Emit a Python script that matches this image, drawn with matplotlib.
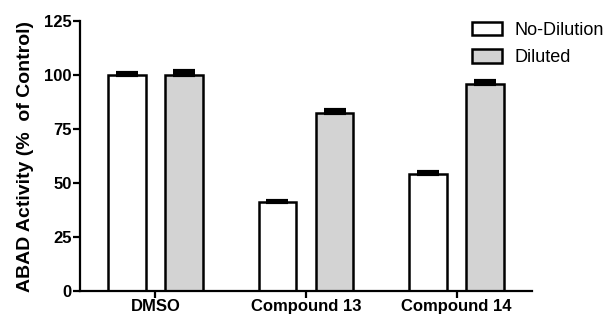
import matplotlib
matplotlib.use("Agg")
import matplotlib.pyplot as plt
import numpy as np

categories = ["DMSO", "Compound 13", "Compound 14"]
no_dilution = [100.0, 41.0, 54.0]
no_dilution_err = [0.8, 0.5, 0.9]
diluted = [100.0, 82.5, 96.0]
diluted_err = [1.8, 1.3, 1.0]
yticks = [0, 25, 50, 75, 100, 125]

plt.rcParams['font.family'] = ['Liberation Sans', 'DejaVu Sans']

fig = plt.figure(figsize=(6.13, 3.2), dpi=100)
ax = fig.add_axes([80/613, 1-291/320, (532-80)/613, (291-21)/320])

x = np.arange(len(categories))
w = 0.25
off = 0.19
ekw = dict(ecolor='black', elinewidth=1.8, capsize=8, capthick=3)
ax.bar(x - off, no_dilution, w, color='white', edgecolor='black', linewidth=1.8,
       yerr=[np.zeros(len(no_dilution)), no_dilution_err], error_kw=ekw,
       label='No-Dilution', zorder=2)
ax.bar(x + off, diluted, w, color='#d3d3d3', edgecolor='black', linewidth=1.8,
       yerr=[np.zeros(len(diluted)), diluted_err], error_kw=ekw,
       label='Diluted', zorder=2)

ax.set_xlim(-0.5, 2.5)
ax.set_ylim(0, 125)
ax.set_yticks(yticks)
ax.set_xticks(x)
ax.set_xticklabels(categories, fontweight='bold', fontsize=12)
for lab in ax.get_yticklabels():
    lab.set_fontweight('bold')
    lab.set_fontsize(12)
ax.spines['top'].set_visible(False)
ax.spines['right'].set_visible(False)
ax.spines['left'].set_linewidth(1.6)
ax.spines['bottom'].set_linewidth(1.6)
ax.tick_params(axis='both', direction='out', length=5, width=1.6, pad=1)
ax.set_ylabel('ABAD Activity (%  of Control)', fontweight='bold', fontsize=14, labelpad=7)

leg = ax.legend(loc='upper left', bbox_to_anchor=(468/613, 1-18/320), bbox_transform=fig.transFigure,
                frameon=False, fontsize=13, handlelength=1.7, handleheight=0.8,
                handletextpad=0.7, labelspacing=0.55, borderaxespad=0.0, borderpad=0.2)

fig.savefig('out.png', dpi=100)
